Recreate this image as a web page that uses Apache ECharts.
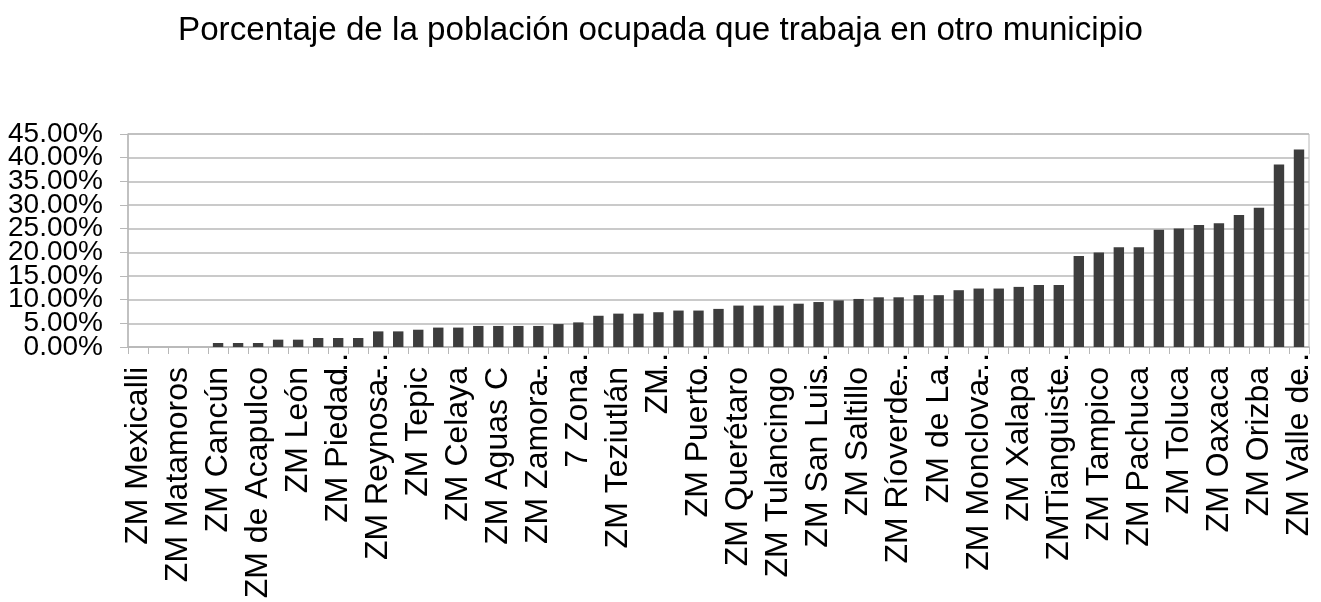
<!DOCTYPE html>
<html>
<head>
<meta charset="utf-8">
<script src="https://cdn.jsdelivr.net/npm/echarts@6/dist/echarts.min.js"></script>
<style>
  html, body { margin: 0; padding: 0; background: #fff; }
  #chart { width: 1321px; height: 602px; }
</style>
</head>
<body>
<div id="chart"></div>
<script>
// zonas metropolitanas, ordenadas de menor a mayor
const zonas = [
  'ZM Mexicalli', 'ZM Ensenada', 'ZM Matamoros', 'ZM Nuevo Laredo', 'ZM Cancún',
  'ZM Villahermosa', 'ZM de Acapulco', 'ZM Tijuana', 'ZM León', 'ZM Mérida',
  'ZM Piedad…', 'ZM Chihuahua', 'ZM Reynosa-…', 'ZM Juárez', 'ZM Tepic',
  'ZM Campeche', 'ZM Celaya', 'ZM Morelia', 'ZM Aguas C', 'ZM Culiacán',
  'ZM Zamora-…', 'ZM Durango', '7 Zona…', 'ZM Tehuacán', 'ZM Teziutlán',
  'ZM Guaymas', 'ZM…', 'ZM Colima', 'ZM Puerto…', 'ZM Zacatecas',
  'ZM Querétaro', 'ZM Cuernavaca', 'ZM Tulancingo', 'ZM Tula', 'ZM San Luis…',
  'ZM Monterrey', 'ZM Saltillo', 'ZM Guadalajara', 'ZM Ríoverde-…', 'ZM Tlaxcala',
  'ZM de La…', 'ZM Puebla', 'ZM Monclova-…', 'ZM Minatitlán', 'ZM Xalapa',
  'ZM Veracruz', 'ZMTianguiste…', 'ZM Cuautla', 'ZM Tampico', 'ZM Córdoba',
  'ZM Pachuca', 'ZM Tehuantepec', 'ZM Toluca', 'ZM Coatzacoalcos', 'ZM Oaxaca',
  'ZM Poza Rica', 'ZM Orizba', 'ZM Ocotlán', 'ZM Valle de…'
];

// porcentaje que trabaja en otro municipio
const porcentaje = [
  0, 0, 0, 0, 0.85,
  0.85, 0.85, 1.55, 1.55, 1.9,
  1.9, 1.9, 3.3, 3.3, 3.65,
  4.1, 4.1, 4.45, 4.45, 4.45,
  4.45, 4.85, 5.2, 6.6, 7.05,
  7.05, 7.35, 7.7, 7.7, 8.05,
  8.75, 8.75, 8.75, 9.15, 9.5,
  9.85, 10.15, 10.5, 10.5, 10.95,
  10.95, 12.0, 12.35, 12.35, 12.7,
  13.1, 13.1, 19.25, 19.95, 21.1,
  21.1, 24.75, 25.05, 25.8, 26.15,
  27.9, 29.4, 38.55, 41.75
];

const chart = echarts.init(document.getElementById('chart'));

// las etiquetas del eje Y se encimaban y ECharts ocultaba algunas:
// se reparten en dos ejes superpuestos (múltiplos de 10 / el resto)
const etiquetaY = (par) => (v) => ((Math.round(v / 5) % 2 === 0) === par ? v.toFixed(2) + '%' : '');

const ejeY = {
  type: 'value',
  position: 'left',
  min: 0,
  max: 45,
  interval: 5,
  axisLabel: { fontSize: 28, color: '#000', margin: 25, showMinLabel: true, showMaxLabel: true }
};

const option = {
  animation: false,
  textStyle: { fontFamily: 'Liberation Sans' },
  title: {
    text: 'Porcentaje de la población ocupada que trabaja en otro municipio',
    left: 'center',
    top: 9,
    textStyle: { fontSize: 33.2, fontWeight: 'normal', color: '#000' }
  },
  grid: {
    left: 128,
    right: 12,
    top: 134,
    bottom: 255,
    show: true,
    borderColor: '#b8b8b8',
    borderWidth: 1
  },
  xAxis: {
    type: 'category',
    data: zonas,
    axisLine: { lineStyle: { color: '#b8b8b8', width: 1.5 } },
    axisTick: { show: true, interval: 0, length: 7, lineStyle: { color: '#b8b8b8' } },
    axisLabel: {
      interval: 1,
      rotate: 90,
      margin: 20,
      fontSize: 32,
      color: '#000',
      // el "…" sobresale hacia el eje, como en el original
      formatter: (v) => v.endsWith('…') ? '{t|' + v.slice(0, -1) + '}{e|…}' : v,
      rich: {
        t: { fontSize: 32, color: '#000' },
        e: { fontSize: 32, color: '#000', width: 1, align: 'left' }
      }
    }
  },
  yAxis: [
    {
      ...ejeY,
      axisLine: { show: true, lineStyle: { color: '#b8b8b8', width: 1.5 } },
      axisTick: { show: true, length: 8, lineStyle: { color: '#b8b8b8' } },
      splitLine: { lineStyle: { color: '#b8b8b8', width: 1.5 } },
      axisLabel: { ...ejeY.axisLabel, formatter: etiquetaY(true) }
    },
    {
      ...ejeY,
      axisLine: { show: false },
      axisTick: { show: false },
      splitLine: { show: false },
      axisLabel: { ...ejeY.axisLabel, formatter: etiquetaY(false) }
    }
  ],
  series: [
    {
      type: 'bar',
      yAxisIndex: 0,
      data: porcentaje,
      barWidth: '52%',
      itemStyle: { color: '#3d3d3d' }
    }
  ]
};

chart.setOption(option);
</script>
</body>
</html>
